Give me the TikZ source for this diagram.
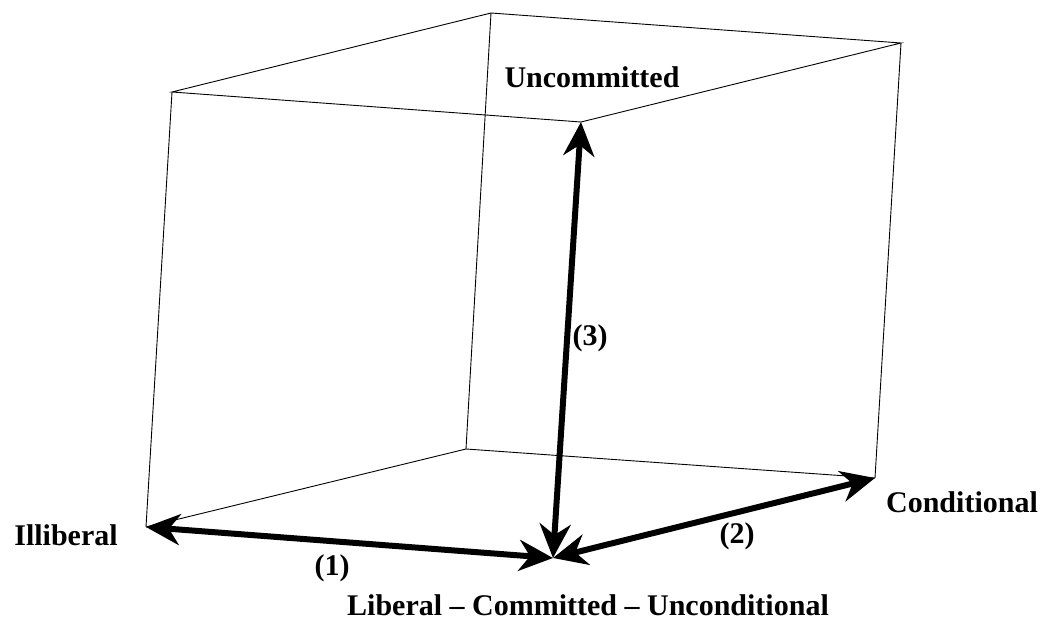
\documentclass[tikz,border=0pt]{standalone}
\usepackage{fontspec}
\setmainfont{Liberation Serif}
\usetikzlibrary{arrows.meta}

\begin{document}
\begin{tikzpicture}
[x=1pt,y=-1pt]
\tikzset{
	rim/.style = {draw, line width=0.9pt},
	axis/.style = {draw, line width=6pt,
		{Stealth[length=34pt,width=31pt,inset=11pt]}-{Stealth[length=34pt,width=31pt,inset=11pt]}},
	pole/.style = {font=\fontsize{30}{36}\selectfont\bfseries, inner sep=0},
	num/.style = {font=\fontsize{30}{36}\selectfont\bfseries, inner sep=0}
}
\useasboundingbox (0,0) rectangle (1047,620);

% corners of the cube
\coordinate (o)  at (553,558);
\coordinate (lb) at (146,527);
\coordinate (bb) at (466,449);
\coordinate (rb) at (875,478);
\coordinate (ft) at (581,122);
\coordinate (lt) at (172,92);
\coordinate (bt) at (491,13);
\coordinate (rt) at (901,43);

% thin edges
\draw [rim] (lt) -- (bt) -- (rt) -- (ft) -- cycle;
\draw [rim] (lt) -- (lb);
\draw [rim] (bt) -- (bb);
\draw [rim] (rt) -- (rb);
\draw [rim] (lb) -- (bb) -- (rb);

% the three dimensions
\draw [axis] (lb) -- (o);
\draw [axis] (o) -- (rb);
\draw [axis] (o) -- (ft);

\node (uncommitted) [pole] at (592,77) {Uncommitted};
\node (illiberal) [pole] at (66,535) {Illiberal};
\node (conditional) [pole] at (962,502) {Conditional};
\node (liberal) [pole] at (588,605) {Liberal -- Committed -- Unconditional};

\node (n1) [num] at (332,568) {(1)};
\node (n2) [num] at (737,536) {(2)};
\node (n3) [num] at (590,338) {(3)};
\end{tikzpicture}
\end{document}
